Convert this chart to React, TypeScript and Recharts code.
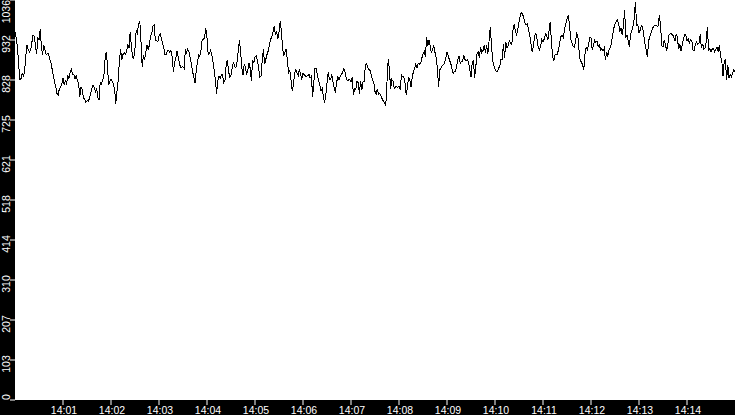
import { LineChart, Line, XAxis, YAxis, CartesianGrid } from 'recharts'

// one reading every 1.5 s starting at 14:00:00
const sampleStepSec = 1.5

const values = [
  954, 937, 915, 872, 830, 832, 846, 839, 850, 891, 919, 908, 901, 906, 925, 945, 943, 919, 895, 937,
  932, 960, 915, 895, 919, 906, 894, 898, 896, 882, 872, 856, 839, 824, 811, 794, 790, 807, 810, 818,
  833, 815, 829, 817, 841, 833, 849, 856, 844, 843, 832, 839, 829, 820, 784, 811, 804, 782, 780, 772,
  775, 774, 780, 793, 807, 815, 809, 799, 807, 784, 777, 822, 818, 829, 836, 881, 901, 870, 815, 826,
  830, 825, 819, 805, 768, 799, 829, 878, 909, 882, 895, 900,
  895, 901, 921, 911, 954, 915, 887, 885, 911, 957, 950, 974, 982, 928, 863, 893, 881, 902, 919, 908,
  919, 943, 950, 969, 971, 931, 931, 928, 943, 948, 936, 924, 912, 894, 895, 905, 905, 901, 905, 887,
  850, 875, 884, 905, 889, 872, 861, 862, 863, 859, 910, 900, 909, 901, 887, 868, 850, 837, 820, 852,
  874, 893, 890, 905, 934, 934, 938, 963, 937, 894, 898, 906, 893, 875, 855, 829, 793, 827, 839, 833,
  843, 842, 822, 828, 868, 881, 850, 837, 842, 859, 875, 864, 860, 875, 902, 932, 904, 862, 841, 868,
  863, 843, 853, 872, 859, 827, 879, 874, 889, 891, 881, 859, 837, 839, 878, 908, 870, 882, 895, 904,
  919, 934, 941, 954, 969, 945, 953, 936, 952, 982, 954, 911, 892, 902, 910, 879, 848, 853, 829, 801,
  816, 846, 856, 846, 840, 858, 843, 830, 846, 842, 839, 839, 840, 843, 834, 839, 786, 822, 859, 859,
  841, 827, 816, 801, 807, 785, 770, 790, 820, 849, 830, 829, 844, 824, 809, 796, 823, 836, 830, 837,
  844, 848, 858, 850, 833, 827, 829, 829, 824, 837, 790, 807, 805, 826, 822, 793, 827, 803, 824, 824,
  868, 872, 861, 856, 853, 839, 829, 822, 799, 793, 806, 791, 794, 787, 780, 774, 768, 763, 824, 882,
  856, 805, 830, 826, 807, 811, 811, 810, 813, 803, 842, 837, 837, 820, 790, 810, 837, 829, 810, 836,
  850, 858, 870, 859, 872, 870, 872, 885, 896, 903, 889, 939, 917, 932, 917, 899, 910, 917, 900, 885,
  861, 810, 855, 860, 865, 868, 874, 887, 900, 892, 881, 873, 861, 846, 850, 852, 863, 881, 891, 872,
  876, 876, 894, 882, 879, 882, 874, 856, 837, 874, 881, 833, 863, 896, 902, 887, 913, 900, 905, 919,
  900, 918, 896, 928, 965, 924, 879, 866, 857, 850, 850, 859, 865, 882, 882, 922, 887, 928, 913, 918,
  931, 924, 921, 957, 973, 954, 946, 960, 979, 995, 1004, 1000, 988, 977, 972, 975, 959, 944, 921, 902,
  917, 943, 950, 934, 914, 906, 915, 934, 927, 935, 948, 945, 932, 955, 980, 930, 891, 878, 893, 895,
  896, 909, 926, 942, 944, 938, 961, 974, 986, 996, 974, 938, 925, 917, 913, 925, 950, 945, 906, 880,
  875, 868, 856, 896, 914, 907, 923, 938, 938, 906, 919, 932, 926, 930, 916, 919, 907, 910, 904, 911,
  881, 901, 891, 906, 913, 924, 945, 963, 973, 981, 984, 976, 954, 963, 945, 969, 1010, 941, 945, 931,
  915, 948, 957, 969, 988, 1032, 971, 974, 950, 958, 969, 965, 945, 921, 906, 889, 930, 941, 951, 960,
  967, 971, 971, 968, 969, 997, 967, 917, 915, 931, 923, 903, 920, 946, 948, 948, 947, 938, 930, 948,
  939, 908, 921, 905, 918, 935, 947, 945, 931, 935, 925, 934, 931, 906, 906, 923, 928, 921, 924, 947,
  911, 923, 909, 912, 928, 967, 906, 910, 901, 909, 911, 902, 908, 914, 902, 919, 891, 879, 839, 876,
  881, 829, 868, 833, 842, 837, 846, 855, 850,
]

const xTickSeconds = [60, 120, 180, 240, 300, 360, 420, 480, 540, 600, 660, 720, 780, 840]
const xTickLabels = [
  '14:01', '14:02', '14:03', '14:04', '14:05', '14:06', '14:07',
  '14:08', '14:09', '14:10', '14:11', '14:12', '14:13', '14:14',
]
const yTickValues = [0, 103.6, 207.2, 310.8, 414.4, 518, 621.6, 725.2, 828.8, 932.4, 1036]
const yTickLabels = ['0', '103', '207', '310', '414', '518', '621', '725', '828', '932', '1036']

const data = values.map((v, i) => ({ t: i * sampleStepSec, v }))

const font = { fontFamily: 'Liberation Sans, Arial, sans-serif', fontSize: 10.5, fill: '#fff' }

const XTick = ({ x, y, payload }: any) => {
  const i = xTickSeconds.indexOf(payload.value)
  return (
    <text x={x + 1} y={y + 7} textAnchor="middle" {...font}>
      {xTickLabels[i]}
    </text>
  )
}

const YTick = ({ x, y, payload }: any) => {
  const i = yTickValues.indexOf(payload.value)
  const bx = x + 2
  let anchor = 'middle'
  let cy = y + 4
  if (i === 0) { anchor = 'start'; cy = y }
  if (i === yTickValues.length - 1) { anchor = 'end'; cy = y }
  return (
    <text x={bx} y={cy} transform={`rotate(-90 ${bx} ${cy})`} textAnchor={anchor} {...font}>
      {yTickLabels[i]}
    </text>
  )
}

export default function App() {
  return (
    <div style={{ position: 'absolute', left: 0, top: 0, width: 735, height: 415, background: '#000' }}>
      <LineChart width={735} height={415} data={data} margin={{ top: 0, right: 0, bottom: 0, left: 0 }}>
        <CartesianGrid fill="#fff" horizontal={false} vertical={false} />
        <XAxis
          dataKey="t" type="number" domain={[0, 900]} ticks={xTickSeconds} interval={0}
          height={15} tickSize={5} axisLine={false} tickLine={{ stroke: '#fff' }} tick={<XTick />}
        />
        <YAxis
          type="number" domain={[0, 1036]} ticks={yTickValues} interval={0}
          width={15} tickSize={5} axisLine={false} tickLine={{ stroke: '#fff' }} tick={<YTick />}
        />
        <Line
          dataKey="v" type="linear" stroke="#000" strokeWidth={1} dot={false}
          shapeRendering="crispEdges" isAnimationActive={false}
        />
      </LineChart>
    </div>
  )
}
